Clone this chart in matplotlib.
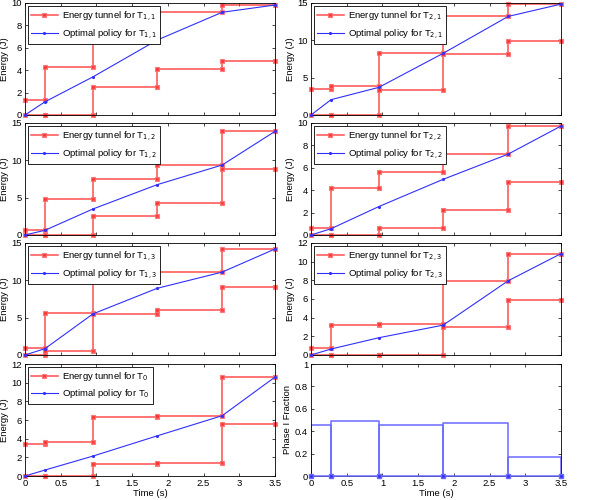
import matplotlib
matplotlib.use("Agg")
import matplotlib.pyplot as plt
from matplotlib.ticker import FuncFormatter

plt.rcParams['font.family'] = ['Liberation Sans', 'DejaVu Sans']
plt.rcParams['font.size'] = 6.8

# breakpoints of the schedule (s)
t = [0, 0.28, 0.95, 1.85, 2.76, 3.5]

# energy tunnels: upper / lower bound per interval, optimal policy at breakpoints
up_11 = [1.35, 4.26, 7.5, 9.17, 9.82]
lo_11 = [0, 0, 2.5, 4.14, 4.82]
opt_11 = [0, 1.18, 3.40, 6.69, 9.17, 9.82]

up_21 = [3.53, 3.93, 8.35, 13.2, 14.85]
lo_21 = [0, 0, 3.35, 8.17, 9.85]
opt_21 = [0, 2.05, 3.7, 8.26, 13.2, 14.85]

up_12 = [0.71, 4.82, 7.5, 9.37, 13.88]
lo_12 = [0, 0, 2.5, 4.29, 8.84]
opt_12 = [0, 0.63, 3.48, 6.74, 9.37, 13.88]

up_22 = [0.62, 4.23, 5.65, 7.22, 9.73]
lo_22 = [0, 0, 0.65, 2.22, 4.70]
opt_22 = [0, 0.56, 2.54, 4.97, 7.22, 9.73]

up_13 = [0.98, 5.6, 10.49, 11.1, 14.2]
lo_13 = [0, 0.58, 5.45, 6.07, 9.15]
opt_13 = [0, 0.85, 5.5, 8.93, 11.1, 14.2]

up_23 = [0.75, 3.19, 3.37, 7.95, 10.86]
lo_23 = [0, 0, 0, 2.95, 5.86]
opt_23 = [0, 0.64, 1.85, 3.2, 7.95, 10.86]

up_0 = [3.48, 3.62, 6.28, 6.39, 10.6]
lo_0 = [0, 0, 1.28, 1.38, 5.57]
opt_0 = [0, 0.64, 2.13, 4.3, 6.46, 10.6]

phase_frac = [0.452, 0.49, 0.458, 0.476, 0.173]

panels = [
    ("1,1", up_11, lo_11, opt_11, 10, 2),
    ("2,1", up_21, lo_21, opt_21, 15, 5),
    ("1,2", up_12, lo_12, opt_12, 15, 5),
    ("2,2", up_22, lo_22, opt_22, 10, 2),
    ("1,3", up_13, lo_13, opt_13, 15, 5),
    ("2,3", up_23, lo_23, opt_23, 12, 2),
    ("0", up_0, lo_0, opt_0, 12, 2),
]

W, H = 616, 500
fig = plt.figure(figsize=(W / 100, H / 100), dpi=100)

lefts = [25, 311]
tops = [3, 123, 243, 364]
aw, ah = 250, 112

RED = '#ff3030'
BLUE = '#3030ff'

fmt = FuncFormatter(lambda v, p: ('%g' % v))


def make_ax(col, row):
    x0 = lefts[col] / W
    y0 = 1 - (tops[row] + ah) / H
    ax = fig.add_axes([x0, y0, aw / W, ah / H])
    ax.tick_params(direction='in', top=True, right=True, length=2.5, width=0.5, pad=2)
    for s in ax.spines.values():
        s.set_linewidth(0.6)
    ax.set_xlim(0, 3.5)
    ax.set_xticks([0, 0.5, 1, 1.5, 2, 2.5, 3, 3.5])
    ax.xaxis.set_major_formatter(fmt)
    ax.yaxis.set_major_formatter(fmt)
    if row < 3:
        ax.tick_params(labelbottom=False)
    else:
        ax.set_xlabel('Time (s)', labelpad=1)
    return ax


def steps(vals):
    xs, ys = [], []
    for i, v in enumerate(vals):
        xs += [t[i], t[i + 1]]
        ys += [v, v]
    return xs, ys


for k, (name, up, lo, opt, ymax, ystep) in enumerate(panels):
    col, row = k % 2, k // 2
    ax = make_ax(col, row)
    xu, yu = steps(up)
    xl, yl = steps(lo)
    h1, = ax.plot(xu, yu, color=RED, lw=1.1, marker='s', ms=2.8, mfc=RED, mec='#ff7070', mew=0.8, alpha=0.85, clip_on=False)
    ax.plot(xl, yl, color=RED, lw=1.1, marker='s', ms=2.8, mfc=RED, mec='#ff7070', mew=0.8, alpha=0.85, clip_on=False)
    h2, = ax.plot(t, opt, color=BLUE, lw=0.8, marker='.', ms=2.5, clip_on=False, zorder=3)
    ax.set_ylim(0, ymax)
    ax.set_yticks(list(range(0, ymax + 1, ystep)))
    ax.set_ylabel('Energy (J)', labelpad=2)
    leg = ax.legend([h1, h2], ['Energy tunnel for T$_{%s}$' % name, 'Optimal policy for T$_{%s}$' % name],
                    loc='upper left', numpoints=1, fancybox=False, edgecolor='black', framealpha=1,
                    handlelength=2.8, handletextpad=0.45, borderpad=0.35, labelspacing=0.45,
                    borderaxespad=0.3, fontsize=6.8)
    leg.get_frame().set_linewidth(0.6)

# Phase I fraction panel
ax = make_ax(1, 3)
PB = '#6a6aff'
for i, v in enumerate(phase_frac):
    ax.plot([t[i], t[i], t[i + 1], t[i + 1]], [0, v, v, 0], color=PB, lw=1.1)
ax.plot(t, [0] * len(t), color=PB, lw=1.1, marker='s', ms=2.8, mfc=BLUE, mec=PB, clip_on=False, zorder=3)
ax.set_ylim(0, 1)
ax.set_yticks([0, 0.2, 0.4, 0.6, 0.8, 1])
ax.set_ylabel('Phase I Fraction', labelpad=2)

fig.savefig('out.png', dpi=100)
